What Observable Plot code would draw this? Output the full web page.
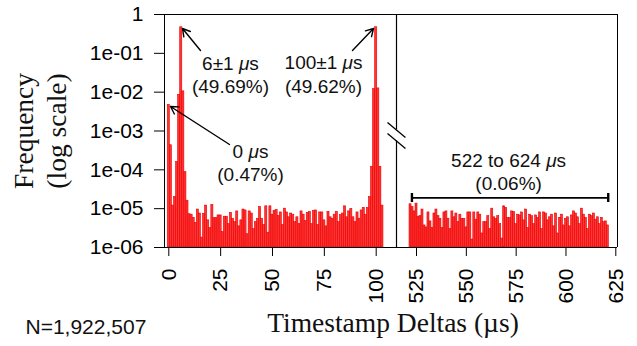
<!DOCTYPE html>
<html><head><meta charset="utf-8">
<script src="https://cdn.jsdelivr.net/npm/d3@7"></script>
<script src="https://cdn.jsdelivr.net/npm/@observablehq/plot@0.6"></script>
<style>
body{margin:0;background:#fff}
#chart{position:relative;width:637px;height:346px;background:#fff}
#chart svg{position:absolute;left:0;top:0}
</style></head><body><div id="chart"></div>
<script>
// ---- data (frequency per 1 µs bin) ----
const leftStart = 0;
const leftFreq = [
  4.7e-3, 4.3e-4, 1.2e-5, 2.0e-5, 1.6e-4, 8.5e-3, 0.47, 1.05e-2, 8.7e-5, 1.6e-5,
  7.2e-6, 7.0e-6, 5.8e-6, 4.3e-6, 9.5e-6, 7.5e-6, 1.8e-6, 7.4e-6, 1.2e-5, 5.0e-6,
  3.2e-6, 1.25e-5, 5.7e-6, 5.7e-6, 6.7e-6, 6.7e-6, 2.5e-6, 6.2e-6, 6.2e-6, 4.0e-6,
  7.8e-6, 5.5e-6, 4.5e-6, 8.5e-6, 3.5e-6, 5.0e-6, 9.5e-6, 9.0e-6, 2.2e-6, 8.5e-6,
  7.5e-6, 3.0e-6, 4.5e-6, 5.5e-6, 1.1e-5, 5.5e-6, 3.8e-6, 1.15e-5, 2.4e-6, 1.15e-5,
  7.0e-6, 8.8e-6, 9.2e-6, 6.5e-6, 8.0e-6, 3.8e-6, 1.0e-5, 8.0e-6, 6.0e-6, 7.5e-6,
  7.0e-6, 4.5e-6, 6.0e-6, 4.0e-6, 8.5e-6, 7.0e-6, 4.8e-6, 7.8e-6, 8.2e-6, 4.0e-6,
  8.8e-6, 9.0e-6, 3.8e-6, 8.0e-6, 8.0e-6, 5.0e-6, 3.5e-6, 8.3e-6, 6.0e-6, 5.5e-6,
  7.0e-6, 8.2e-6, 4.5e-6, 6.8e-6, 7.5e-6, 1.15e-5, 6.0e-6, 8.5e-6, 9.8e-6, 6.0e-6,
  4.5e-6, 8.0e-6, 5.5e-6, 9.0e-6, 1.05e-5, 7.0e-6, 1.05e-5, 2.0e-5, 1.2e-4, 1.2e-2,
  0.47, 1.25e-2, 1.2e-4, 1.2e-5
];
const rightStart = 522;
const rightFreq = [
  1.3e-5, 1.1e-5, 8.5e-6, 1.35e-5, 6.2e-6, 6.4e-6, 9.5e-6, 3.7e-6, 3.3e-6, 8.0e-6,
  4.7e-6, 3.2e-6, 7.5e-6, 9.5e-6, 6.4e-6, 5.5e-6, 3.2e-6, 8.0e-6, 8.5e-6, 5.5e-6,
  3.0e-6, 8.5e-6, 6.0e-6, 7.5e-6, 4.5e-6, 7.0e-6, 5.5e-6, 5.5e-6, 3.3e-6, 8.0e-6,
  8.0e-6, 1.6e-6, 8.0e-6, 5.2e-6, 8.0e-6, 7.0e-6, 2.3e-6, 4.5e-6, 4.5e-6, 6.4e-6,
  3.0e-6, 1.0e-5, 6.0e-6, 5.5e-6, 6.4e-6, 4.0e-6, 1.7e-6, 1.15e-5, 1.05e-5, 5.8e-6,
  5.8e-6, 8.5e-6, 8.2e-6, 4.0e-6, 7.0e-6, 6.7e-6, 8.0e-6, 5.0e-6, 9.5e-6, 3.2e-6,
  7.0e-6, 6.4e-6, 4.0e-6, 6.7e-6, 5.8e-6, 8.0e-6, 3.0e-6, 8.0e-6, 7.5e-6, 5.0e-6,
  6.0e-6, 7.0e-6, 3.5e-6, 7.5e-6, 2.3e-6, 5.8e-6, 7.0e-6, 3.7e-6, 5.5e-6, 6.0e-6,
  3.5e-6, 6.7e-6, 8.5e-6, 7.5e-6, 6.0e-6, 4.0e-6, 1.0e-5, 7.0e-6, 5.8e-6, 3.0e-6,
  7.0e-6, 6.4e-6, 7.5e-6, 5.2e-6, 6.0e-6, 4.0e-6, 5.8e-6, 4.5e-6, 4.7e-6, 3.7e-6
];
const leftTicks = [0, 25, 50, 75, 100];
const rightTicks = [525, 550, 575, 600, 625];
const yTicks = [1e-6, 1e-5, 1e-4, 1e-3, 1e-2, 1e-1, 1];
const yTickLabels = ["1e-06", "1e-05", "1e-04", "1e-03", "1e-02", "1e-01", "1"];
const peakLabels = ["6±1 μs\n(49.69%)", "0 μs\n(0.47%)", "100±1 μs\n(49.62%)"];
const rangeLabel = "522 to 624 μs\n(0.06%)";
const yTitle = "Frequency\n(log scale)";
const xTitle = "Timestamp Deltas (µs)";
const nLabel = "N=1,922,507";

// ---- build ----
const W = 637, H = 346;
const sans = "'Liberation Sans', Arial, Helvetica, sans-serif";
const serif = "'Liberation Serif', 'Times New Roman', serif";
const left = leftFreq.map((f, i) => ({x: leftStart + i, f}));
const right = rightFreq.map((f, i) => ({x: rightStart + i, f}));
const fmtY = d => { const i = yTicks.findIndex(t => Math.abs(Math.log10(d / t)) < 1e-6); return i < 0 ? "" : yTickLabels[i]; };
const xL = [-2.073, 109.79], xR = [514.96, 625.85];
const barStyle = {fill: "#ff3434", stroke: "#e80000", strokeWidth: 0.6};
const common = {
  width: W, height: H, marginTop: 14, marginBottom: H - 247,
  style: {fontFamily: sans, fontSize: "21px", color: "black", background: "transparent", overflow: "visible"}
};

const p1 = Plot.plot({
  ...common,
  marginLeft: 164, marginRight: W - 396,
  x: {domain: xL, ticks: leftTicks, tickSize: 9, tickPadding: 12, tickRotate: -90, label: null},
  y: {type: "log", domain: [1e-6, 1], ticks: yTicks, tickFormat: fmtY, tickSize: 10, tickPadding: 11, label: null},
  marks: [
    Plot.rect(left, {x1: d => d.x - 0.5, x2: d => d.x + 0.5, y1: () => 1e-6, y2: "f", ...barStyle}),
    Plot.ruleY([1e-6, 1], {stroke: "black"}),
    Plot.ruleX([xL[0]], {stroke: "black"}),
    Plot.ruleX([xL[1]], {y1: 1e-6, y2: 5.53e-4, stroke: "black", strokeWidth: 1.2}),
    Plot.ruleX([xL[1]], {y1: 1.06e-3, y2: 1, stroke: "black", strokeWidth: 1.2}),
    Plot.link([{a: 105.45, b: 1.656e-3, c: 114.1, d: 6.8e-4}, {a: 105.45, b: 8.63e-4, c: 114.1, d: 3.55e-4}],
      {x1: "a", y1: "b", x2: "c", y2: "d", stroke: "black", strokeWidth: 1.3}),
    Plot.arrow([
      {a: 15.28, b: 0.118, c: 6.6, d: 0.436},
      {a: 29.27, b: 4.5e-4, c: 0.82, d: 4.27e-3},
      {a: 88.57, b: 0.118, c: 98.7, d: 0.436}
    ], {x1: "a", y1: "b", x2: "c", y2: "d", stroke: "black", strokeWidth: 1.4, headLength: 9}),
    Plot.text([peakLabels[0]], {x: 29.75, y: 0.0294, text: d => d, fontSize: 19, lineHeight: 1.25, lineAnchor: "middle", fill: "#111"}),
    Plot.text([peakLabels[1]], {x: 39.4, y: 1.546e-4, text: d => d, fontSize: 19, lineHeight: 1.2, lineAnchor: "middle", fill: "#111"}),
    Plot.text([peakLabels[2]], {x: 74.6, y: 0.0303, text: d => d, fontSize: 19, lineHeight: 1.25, lineAnchor: "middle", fill: "#111"}),
    Plot.text([yTitle], {frameAnchor: "left", dx: -125.5, rotate: -90, text: d => d, fontFamily: serif, fontSize: 27.5, lineHeight: 1.2, lineAnchor: "middle", textAnchor: "middle", fill: "#111"}),
    Plot.text([xTitle], {frameAnchor: "bottom", dx: 112.5, dy: 84, text: d => d, fontFamily: serif, fontSize: 27.5, lineAnchor: "bottom", fill: "#111"}),
    Plot.text([nLabel], {frameAnchor: "bottom-left", dx: -139, dy: 86, text: d => d, fontSize: 21, textAnchor: "start", lineAnchor: "bottom", fill: "#111"})
  ]
});

const p2 = Plot.plot({
  ...common,
  marginLeft: 396, marginRight: W - 617,
  x: {domain: xR, ticks: rightTicks, tickSize: 9, tickPadding: 12, tickRotate: -90, label: null},
  y: {type: "log", domain: [1e-6, 1], axis: null},
  marks: [
    Plot.rect(right, {x1: d => d.x - 0.5, x2: d => d.x + 0.5, y1: () => 1e-6, y2: "f", ...barStyle}),
    Plot.ruleY([1e-6, 1], {stroke: "black"}),
    Plot.ruleX([xR[1]], {stroke: "black"}),
    Plot.ruleY([1.9e-5], {x1: 522.7, x2: 621.2, stroke: "black", strokeWidth: 1.6}),
    Plot.ruleX([522.7, 621.2], {y1: 1.44e-5, y2: 2.46e-5, stroke: "black", strokeWidth: 2.4}),
    Plot.text([rangeLabel], {x: 571.2, y: 9.06e-5, text: d => d, fontSize: 19, lineHeight: 1.2, lineAnchor: "middle", fill: "#111"})
  ]
});

function italicizeMu(svg) {
  svg.querySelectorAll("text, tspan").forEach(el => {
    if (el.children.length) return;
    const s = el.textContent;
    if (!s.includes("μ")) return;
    el.textContent = "";
    s.split(/(μ)/).forEach(part => {
      if (part === "μ") {
        const t = document.createElementNS("http://www.w3.org/2000/svg", "tspan");
        t.setAttribute("font-style", "italic");
        t.textContent = "μ";
        el.appendChild(t);
      } else if (part) el.appendChild(document.createTextNode(part));
    });
  });
}
italicizeMu(p1); italicizeMu(p2);
const c = document.getElementById("chart");
c.appendChild(p1); c.appendChild(p2);
</script></body></html>
